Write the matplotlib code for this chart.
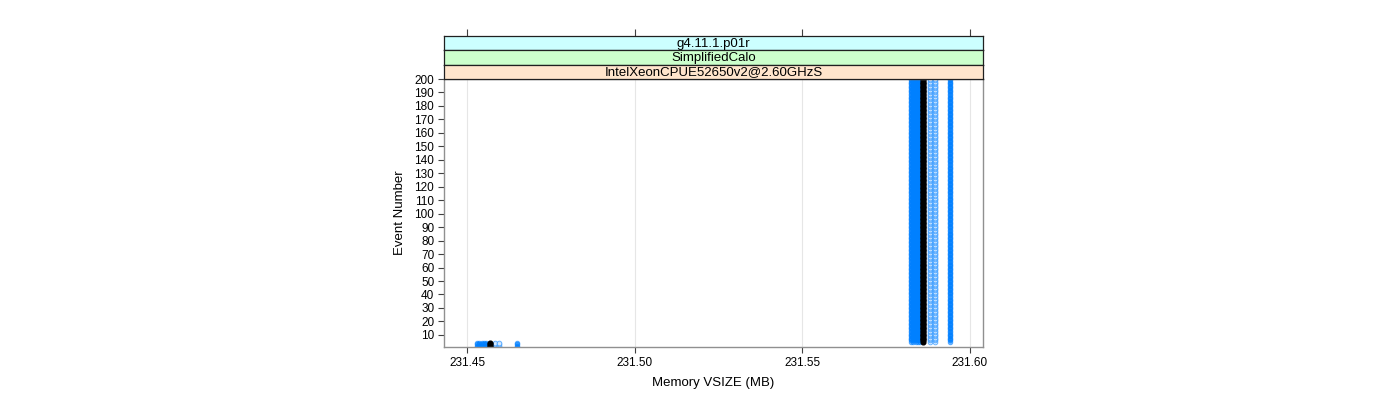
import numpy as np
import matplotlib
matplotlib.use("Agg")
import matplotlib.pyplot as plt

plt.rcParams['font.family'] = ['Liberation Sans', 'DejaVu Sans']

# events 1..4 sit at the low VSIZE, events 5..200 at the high one
events = np.arange(1, 201)
switch_event = 5

# one value pair per run: (first events, later events), in MB
run_low = [231.4529, 231.4536, 231.4543, 231.4550, 231.4557, 231.4583, 231.4595, 231.4649]
run_high = [231.5824, 231.5831, 231.5838, 231.5845, 231.5851, 231.5880, 231.5897, 231.5940]
run_faint = [False, False, False, False, False, True, True, False]
ref_low = 231.4567
ref_high = 231.5861

strip_labels = ["g4.11.1.p01r", "SimplifiedCalo", "IntelXeonCPUE52650v2@2.60GHzS"]
strip_colors = ["#ccffff", "#ccffcc", "#ffe5cc"]
xticks = [231.45, 231.50, 231.55, 231.60]
yticks = list(range(10, 201, 10))

fig = plt.figure(figsize=(14, 4), dpi=100)
W, H = 1400, 400
left, right = 444 / W, 983 / W
bottom, top = 1 - 347 / H, 1 - 79 / H
ax = fig.add_axes([left, bottom, right - left, top - bottom])

xlim = (231.4431, 231.6039)
ax.set_xlim(*xlim)
ax.set_ylim(1, 200)

for x in xticks:
    ax.axvline(x, color="#e6e6e6", lw=0.8, zorder=0)

for lo, hi, faint in zip(run_low, run_high, run_faint):
    xs = np.where(events < switch_event, lo, hi)
    if faint:
        ax.plot(xs, events, "o", ms=3.4, mfc="#d6eaff", mec="#3399ff", mew=0.6,
                alpha=0.8, ls="none")
    else:
        ax.plot(xs, events, "o", ms=3.4, mfc="#0080ff", mec="#0080ff", mew=0.6,
                alpha=0.55, ls="none")

xs = np.where(events < switch_event, ref_low, ref_high)
ax.plot(xs, events, "o", ms=3.4, color="black", ls="none")

ax.set_xticks(xticks)
ax.set_xticklabels(["%.2f" % t for t in xticks], fontsize=8.5)
ax.set_yticks(yticks)
ax.set_yticklabels([str(t) for t in yticks], fontsize=8.5)
ax.tick_params(direction="out", length=4, color="#404040", top=False, right=False, pad=3)
for s in ax.spines.values():
    s.set_color("#909090")
    s.set_linewidth(1.0)
ax.set_xlabel("Memory VSIZE (MB)", fontsize=9.5, labelpad=6)
ax.set_ylabel("Event Number", fontsize=9.5, labelpad=6)

# strips above the panel
strip_h = 14.4 / H
for i, (lab, col) in enumerate(zip(strip_labels, strip_colors)):
    y0 = top + (2 - i) * strip_h
    sax = fig.add_axes([left, y0, right - left, strip_h])
    sax.set_xlim(*xlim)
    sax.set_facecolor(col)
    sax.text(0.5, 0.45, lab, transform=sax.transAxes, ha="center", va="center", fontsize=9.5)
    sax.set_yticks([])
    for s in sax.spines.values():
        s.set_color("#202020")
        s.set_linewidth(0.9)
    if i == 0:
        sax.set_xticks(xticks)
        sax.tick_params(axis="x", direction="out", length=5, bottom=False, top=True,
                        labelbottom=False, labeltop=False, color="#404040")
    else:
        sax.set_xticks([])

fig.savefig("out.png", dpi=100)
